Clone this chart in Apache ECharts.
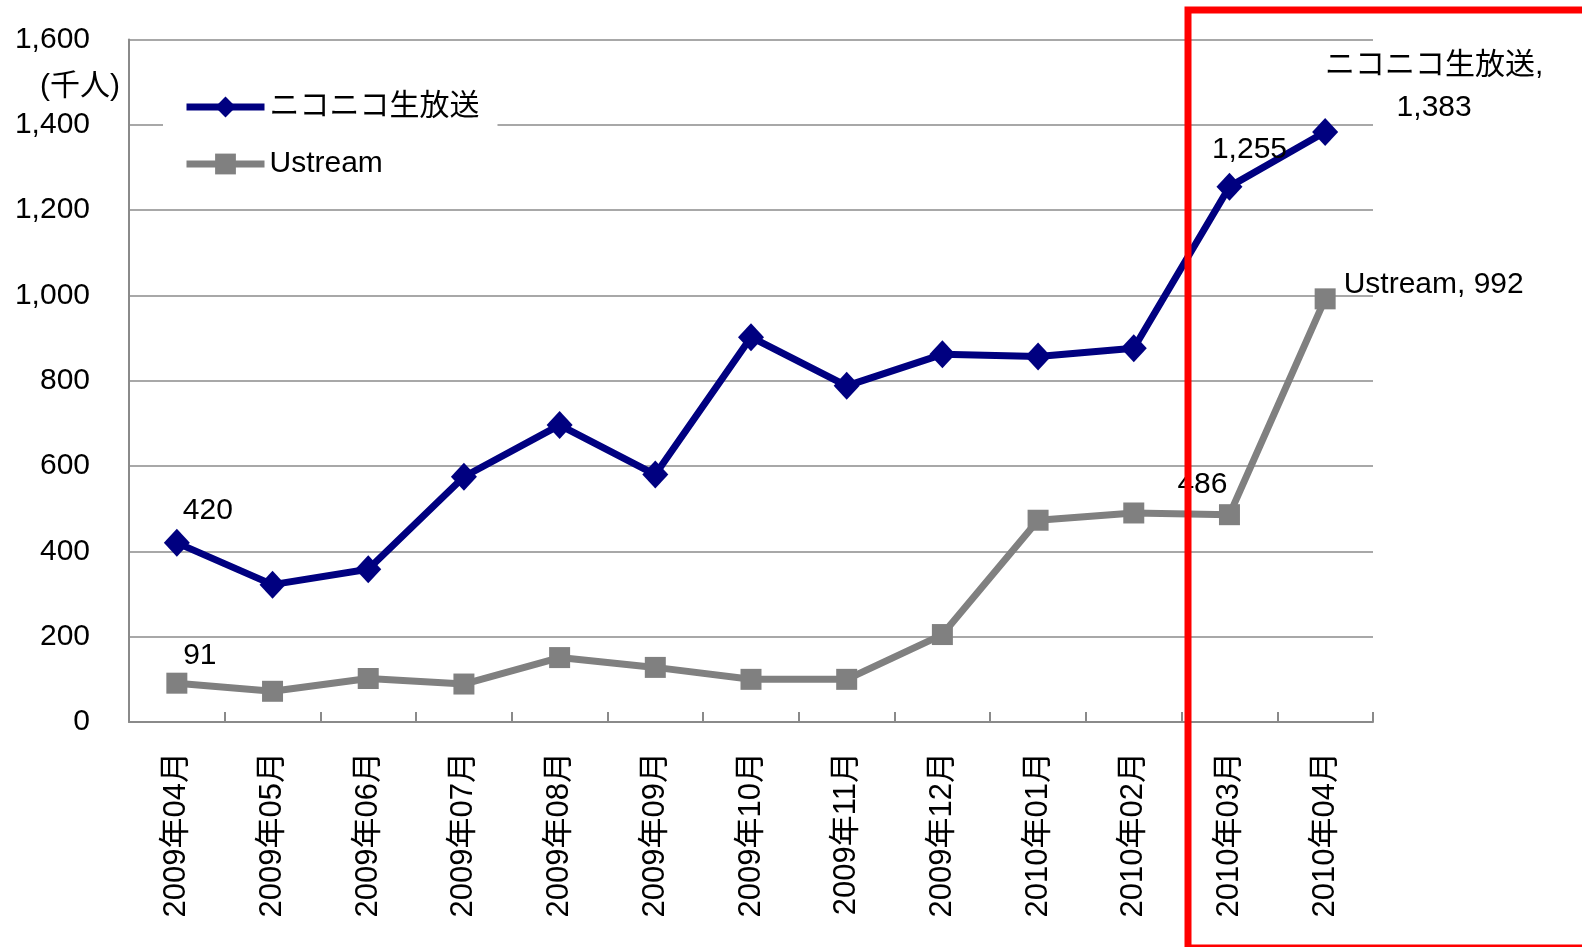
<!DOCTYPE html>
<html>
<head>
<meta charset="utf-8">
<script src="https://cdn.jsdelivr.net/npm/echarts@6/dist/echarts.min.js"></script>
<style>
html,body{margin:0;padding:0;background:#fff;}
#chart{width:1582px;height:947px;}
</style>
</head>
<body>
<div id="chart"></div>
<script>
var categories = ['2009年04月','2009年05月','2009年06月','2009年07月','2009年08月','2009年09月','2009年10月','2009年11月','2009年12月','2010年01月','2010年02月','2010年03月','2010年04月'];
var nicoValues = [420, 322, 358, 575, 696, 580, 902, 788, 862, 857, 876, 1255, 1383];
var ustreamValues = [91, 72, 102, 89, 151, 128, 100, 100, 205, 473, 490, 486, 992];
var yTicks = [0, 200, 400, 600, 800, 1000, 1200, 1400, 1600];
var seriesNames = ['ニコニコ生放送', 'Ustream'];
var unitLabel = '(千人)';

var FONT = '"Liberation Sans", "Noto Sans CJK JP", sans-serif';
var TXT = '#000';
var FS = 30;
function fmt(v){ return Number(v).toLocaleString('en-US'); }

var nicoLabels = {
  0: {position:'top', offset:[31,2]},
  11: {position:'top', offset:[20,-3]},
  12: {position:'top', offset:[109,16], formatter:function(p){return p.seriesName + ',\n' + fmt(p.value);}, lineHeight:42, align:'center'}
};
var ustLabels = {
  0: {position:'top', offset:[23,3]},
  11: {position:'top', offset:[-27,1]},
  12: {position:'right', offset:[3,-14], formatter:function(p){return p.seriesName + ', ' + fmt(p.value);}}
};
function build(values, labels){
  return values.map(function(v,i){
    var item = {value:v};
    if(labels[i]){
      item.label = Object.assign({show:true, fontSize:FS, color:TXT, fontFamily:FONT,
        formatter:function(p){return fmt(p.value);}}, labels[i]);
    }
    return item;
  });
}

var chart = echarts.init(document.getElementById('chart'));
chart.setOption({
  animation:false,
  backgroundColor:'#fff',
  grid:{left:129, top:39.5, right:209, bottom:225, containLabel:false},
  legend:{
    orient:'vertical', left:163, top:80,
    padding:[12,18,20,20], itemGap:27,
    itemWidth:78, itemHeight:26,
    backgroundColor:'#fff',
    data:seriesNames,
    lineStyle:{width:7},
    textStyle:{fontSize:FS, color:TXT, fontFamily:FONT}
  },
  xAxis:{
    type:'category', data:categories, boundaryGap:true,
    axisLine:{lineStyle:{color:'#8a8a8a', width:2}},
    axisTick:{show:true, inside:true, length:10, lineStyle:{color:'#8a8a8a', width:2}},
    axisLabel:{rotate:90, margin:30, fontSize:31, color:TXT, fontFamily:FONT, interval:0},
    splitLine:{show:false}
  },
  yAxis:{
    type:'value', min:yTicks[0], max:yTicks[yTicks.length-1], interval:200,
    axisLine:{show:true, lineStyle:{color:'#8a8a8a', width:2}},
    axisTick:{show:false},
    axisLabel:{margin:39, fontSize:FS, color:TXT, fontFamily:FONT, formatter:function(v){return fmt(v);}},
    splitLine:{show:true, lineStyle:{color:'#a8a8a8', width:2}}
  },
  series:[
    {
      name:seriesNames[0], type:'line', data:build(nicoValues, nicoLabels),
      symbol:'diamond', symbolSize:[26,28], showAllSymbol:true,
      lineStyle:{color:'#000080', width:7},
      itemStyle:{color:'#000080'},
      label:{show:false}, z:3
    },
    {
      name:seriesNames[1], type:'line', data:build(ustreamValues, ustLabels),
      symbol:'rect', symbolSize:[21,21], showAllSymbol:true,
      lineStyle:{color:'#808080', width:7},
      itemStyle:{color:'#808080'},
      label:{show:false}, z:2
    }
  ],
  graphic:[
    {type:'text', left:40, top:72, style:{text:unitLabel, fill:TXT, font:FS + 'px ' + FONT}},
    {type:'rect', z:100, shape:{x:1188, y:10, width:420, height:938}, style:{fill:'none', stroke:'#ff0000', lineWidth:7}}
  ]
});
</script>
</body>
</html>
